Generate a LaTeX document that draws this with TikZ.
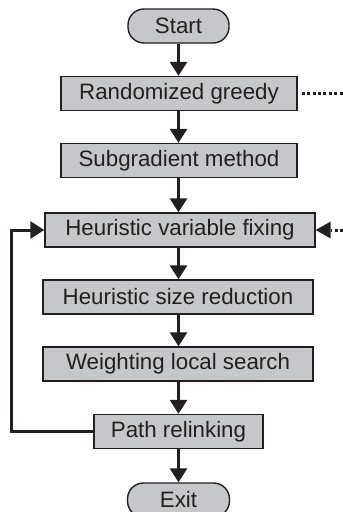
\documentclass[tikz,border=0pt]{standalone}
\usepackage{fontspec}
\setmainfont{Liberation Sans}
\usetikzlibrary{arrows.meta}
\definecolor{boxfill}{RGB}{198,199,202}
\definecolor{ink}{RGB}{35,31,32}
\tikzset{
  stepbox/.style={draw=ink, line width=1.4pt, fill=boxfill, rectangle, inner sep=0pt,
     minimum height=34pt, font=\fontsize{22.3}{24}\selectfont, text=ink},
  termbox/.style={stepbox, rounded corners=16pt},
  flow/.style={draw=ink, line width=3pt, -{Triangle[length=14pt,width=17pt]}},
  dotline/.style={draw=ink, line width=3pt, dash pattern=on 3pt off 2.4pt}
}
\begin{document}
\begin{tikzpicture}[x=1pt,y=-1pt]
\useasboundingbox (0,0) rectangle (343,512);
\node[termbox, minimum width=101pt] (start) at (178.5,26) {Start};
\node[stepbox, minimum width=236pt] (rg) at (179,93.5) {Randomized greedy};
\node[stepbox, minimum width=236pt] (sm) at (179,160.5) {Subgradient method};
\node[stepbox, minimum width=270pt] (hvf) at (180,230) {Heuristic variable fixing};
\node[stepbox, minimum width=270pt] (hsr) at (178,297) {Heuristic size reduction};
\node[stepbox, minimum width=270pt] (wls) at (178,364) {Weighting local search};
\node[stepbox, minimum width=169pt] (pr) at (178.5,431.5) {Path relinking};
\node[termbox, minimum width=102pt] (exit) at (178.5,500) {Exit};
\coordinate (rgout) at (343,93.5);
\coordinate (hvfin) at (343,230);
\coordinate (fbx) at (11,431.5);
\coordinate (fby) at (11,230);
\draw[flow] (start.south -| 178.5,0) -- (rg.north -| 178.5,0);
\draw[flow] (rg.south -| 178.5,0) -- (sm.north -| 178.5,0);
\draw[flow] (sm.south -| 178.5,0) -- (hvf.north -| 178.5,0);
\draw[flow] (hvf.south -| 178.5,0) -- (hsr.north -| 178.5,0);
\draw[flow] (hsr.south -| 178.5,0) -- (wls.north -| 178.5,0);
\draw[flow] (wls.south -| 178.5,0) -- (pr.north -| 178.5,0);
\draw[flow] (pr.south -| 178.5,0) -- (exit.north -| 178.5,0);
\draw[dotline] ([xshift=4pt]rg.east) -- (rgout);
\draw[dotline] (hvfin) -- ([xshift=15pt]hvf.east);
\fill[ink] (hvf.east) -- ++(15,-8.5) -- ++(0,17) -- cycle;
\draw[flow] (pr.west) -- (fbx) -- (fby) -- (hvf.west);
\end{tikzpicture}
\end{document}
